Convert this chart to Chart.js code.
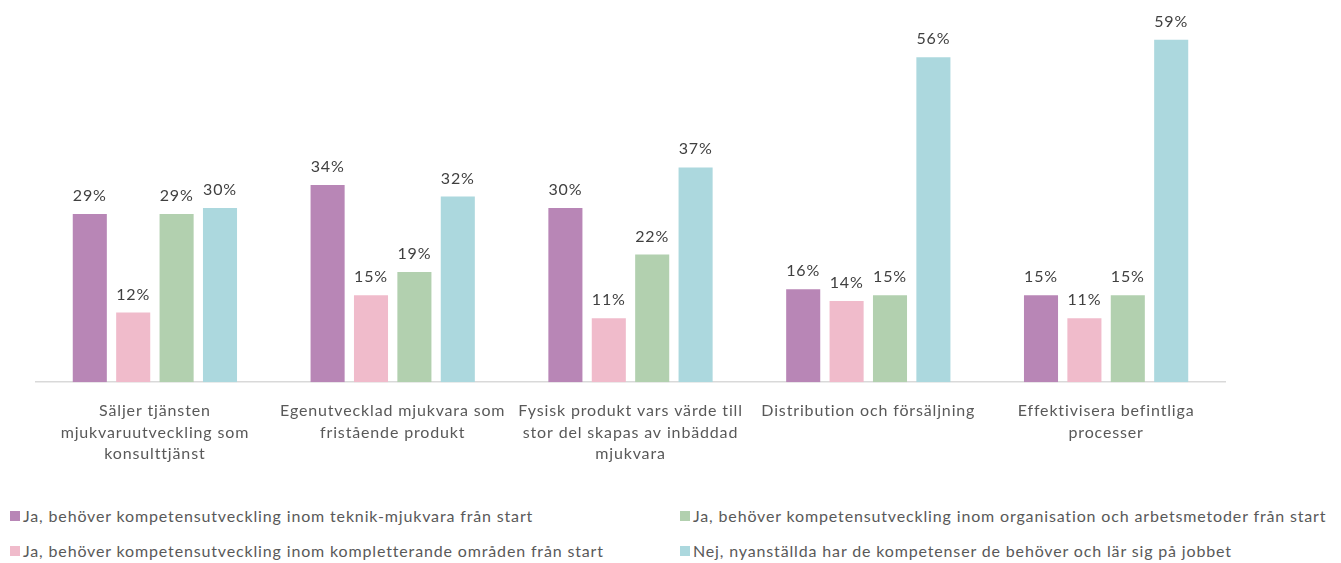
<!DOCTYPE html>
<html lang="sv">
<head>
<meta charset="utf-8">
<script src="https://cdn.jsdelivr.net/npm/chart.js@4"></script>
<style>
  html, body { margin: 0; padding: 0; background: #fff; }
  body { width: 1341px; height: 563px; position: relative; overflow: hidden; font-family: Lato, "Liberation Sans", sans-serif; }
  #wrap { position: absolute; left: 0; top: 0; width: 1341px; height: 483px; }
  #legend { position: absolute; left: 0; top: 500px; width: 1341px; height: 63px; color: #595959; font-size: 16px; letter-spacing: 0.85px; }
  .item { position: absolute; display: flex; align-items: center; white-space: nowrap; }
  .box { width: 10px; height: 10px; margin-right: 3px; }
</style>
</head>
<body>
<div id="wrap"><canvas id="chart"></canvas></div>
<div id="legend"></div>
<script>
const categories = [
  ['Säljer tjänsten', 'mjukvaruutveckling som', 'konsulttjänst'],
  ['Egenutvecklad mjukvara som', 'fristående produkt'],
  ['Fysisk produkt vars värde till', 'stor del skapas av inbäddad', 'mjukvara'],
  ['Distribution och försäljning'],
  ['Effektivisera befintliga', 'processer']
];

const seriesNames = [
  'Ja, behöver kompetensutveckling inom teknik-mjukvara från start',
  'Ja, behöver kompetensutveckling inom kompletterande områden från start',
  'Ja, behöver kompetensutveckling inom organisation och arbetsmetoder från start',
  'Nej, nyanställda har de kompetenser de behöver och lär sig på jobbet'
];

const teknik = [29, 34, 30, 16, 15];
const kompletterande = [12, 15, 11, 14, 11];
const organisation = [29, 19, 22, 15, 15];
const nej = [30, 32, 37, 56, 59];

const colors = ['#b886b6', '#f0bbcb', '#b2d0af', '#acd8de'];
const values = [teknik, kompletterande, organisation, nej];

const FONT = 'Lato, "Liberation Sans", sans-serif';

// slightly looser letter spacing for everything drawn on the canvas
const spacing = {
  id: 'spacing',
  beforeDraw(chart) {
    chart.ctx.letterSpacing = '0.85px';
  }
};

// percentage labels above every bar
const barLabels = {
  id: 'barLabels',
  afterDatasetsDraw(chart) {
    const ctx = chart.ctx;
    ctx.save();
    ctx.letterSpacing = '0.85px';
    ctx.font = '16px ' + FONT;
    ctx.fillStyle = '#404040';
    ctx.textAlign = 'center';
    ctx.textBaseline = 'alphabetic';
    chart.data.datasets.forEach((ds, i) => {
      chart.getDatasetMeta(i).data.forEach((bar, j) => {
        ctx.fillText(ds.data[j] + '%', bar.x, bar.y - 13);
      });
    });
    ctx.restore();
  }
};

const chart = new Chart(document.getElementById('chart'), {
  type: 'bar',
  data: {
    labels: categories,
    datasets: values.map((v, i) => ({
      label: seriesNames[i],
      data: v,
      backgroundColor: colors[i],
      categoryPercentage: 0.73,
      barPercentage: 0.785
    }))
  },
  options: {
    responsive: true,
    maintainAspectRatio: false,
    animation: false,
    layout: { padding: { left: 36, right: 116, top: 5, bottom: 0 } },
    scales: {
      y: { display: false, min: 0, max: 65 },
      x: {
        grid: { display: false, drawTicks: false },
        border: { color: '#d9d9d9', width: 1.5 },
        ticks: {
          color: '#595959',
          padding: 18,
          maxRotation: 0,
          autoSkip: false,
          font: { family: FONT, size: 16, lineHeight: 1.35 }
        }
      }
    },
    plugins: {
      legend: { display: false },
      tooltip: { enabled: false }
    }
  },
  plugins: [spacing, barLabels]
});

// two-column legend under the chart
const legend = document.getElementById('legend');
const spots = [[10, 16], [10, 51], [680, 16], [680, 51]];
seriesNames.forEach((name, i) => {
  const item = document.createElement('div');
  item.className = 'item';
  item.style.left = spots[i][0] + 'px';
  item.style.top = (spots[i][1] - 10) + 'px';
  item.innerHTML = '<span class="box" style="background:' + colors[i] + '"></span><span>' + name + '</span>';
  legend.appendChild(item);
});
</script>
</body>
</html>
